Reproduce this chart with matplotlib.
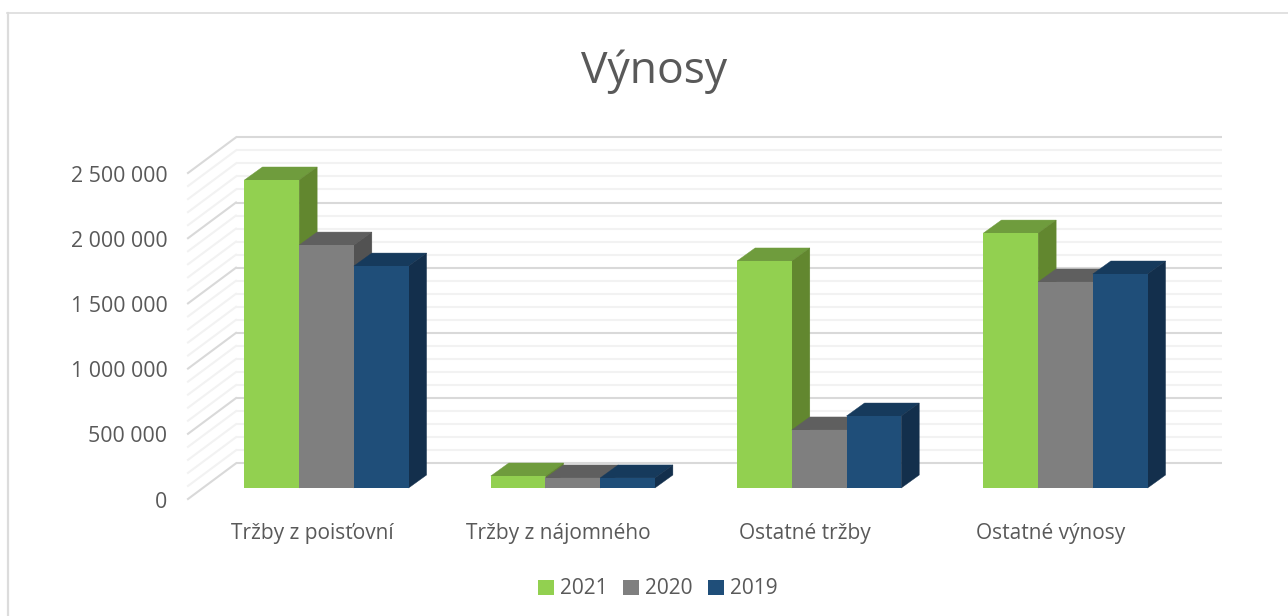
import matplotlib
matplotlib.use('Agg')
import matplotlib.pyplot as plt
from matplotlib.patches import Patch, Polygon
from matplotlib.lines import Line2D

plt.rcParams['font.family'] = ['Open Sans', 'DejaVu Sans']

categories = ['Tržby z poisťovní', 'Tržby z nájomného', 'Ostatné tržby', 'Ostatné výnosy']
years = ['2021', '2020', '2019']
vals_2021 = [2362000, 92000, 1741000, 1955000]
vals_2020 = [1863000, 77000, 445000, 1580000]
vals_2019 = [1702000, 77000, 552000, 1641000]
y_ticks = [0, 500000, 1000000, 1500000, 2000000, 2500000]

front_cols = ['#92D050', '#7F7F7F', '#1F4E79']
top_cols = ['#6F9C3D', '#5F5F5F', '#163A5C']
side_cols = ['#62872F', '#525252', '#132F4C']
text_col = '#595959'

# 246.33 px between groups, 65.2 px for 500 000
px_x = 1 / 246.33
px_y = 500000 / 65.2

fig = plt.figure(figsize=(12.88, 6.16), dpi=100)
ax = fig.add_axes([0, 0, 1, 1])
ax.set_xlim(-326.5 * px_x, (1288 - 326.5) * px_x)
ax.set_ylim(-128 * px_y, 488 * px_y)
ax.axis('off')

# chart frame
fig.add_artist(Line2D([7.5 / 1288, 7.5 / 1288], [0, 1 - 12.5 / 616], color='#DCDCDC', lw=1.6))
fig.add_artist(Line2D([7 / 1288, 1], [1 - 12.5 / 616, 1 - 12.5 / 616], color='#DCDCDC', lw=1.2))

# walls
wall_left = -90.5 * px_x
wall_right = 895 * px_x
front_left = -138.5 * px_x
back_dy = 24.7 * px_y
front_dy = -11 * px_y
for v in range(0, 2500001, 100000):
    major = v % 500000 == 0
    col = '#D9D9D9' if major else '#F2F2F2'
    lw = 1.5
    ax.plot([wall_left, wall_right], [v + back_dy, v + back_dy], color=col, lw=lw, zorder=1, solid_capstyle='butt')
    ax.plot([front_left, wall_left], [v + front_dy, v + back_dy], color=col, lw=lw, zorder=1)

# bars
width = 54.7 * px_x
dx = 18 * px_x
dy = 13 * px_y
series = [vals_2021, vals_2020, vals_2019]
for i in range(len(categories)):
    for s in range(3):
        v = series[s][i]
        left = i + (s - 1.5) * width
        right = left + width
        z = 3 + i * 3 + s
        ax.bar(left, v, width=width, align='edge', color=front_cols[s], zorder=z + 0.2)
        ax.add_patch(Polygon([(left, v), (right, v), (right + dx, v + dy), (left + dx, v + dy)],
                             closed=True, color=top_cols[s], lw=0.3, zorder=z))
        ax.add_patch(Polygon([(right, 0), (right, v), (right + dx, v + dy), (right + dx, dy)],
                             closed=True, color=side_cols[s], lw=0.3, zorder=z))

# texts
for v in y_ticks:
    ax.text(-159 * px_x, v + front_dy - 3 * px_y, f'{v:,}'.replace(',', ' '), ha='right', va='center',
            fontsize=15.4, color=text_col)
for i, c in enumerate(categories):
    ax.text(i - 14.5 * px_x, -45 * px_y, c, ha='center', va='center', fontsize=15, color=text_col)
ax.text(327.5 * px_x, 416 * px_y, 'Výnosy', ha='center', va='center', fontsize=32, color=text_col)

handles = [Patch(facecolor=front_cols[s], label=years[s]) for s in range(3)]
ax.legend(handles=handles, loc='center', bbox_to_anchor=(658 / 1288, 1 - 589 / 616), ncol=3,
          frameon=False, fontsize=15, labelcolor=text_col, handlelength=0.75, handleheight=0.75,
          handletextpad=0.3, columnspacing=0.75)

fig.savefig('out.png', dpi=100)
